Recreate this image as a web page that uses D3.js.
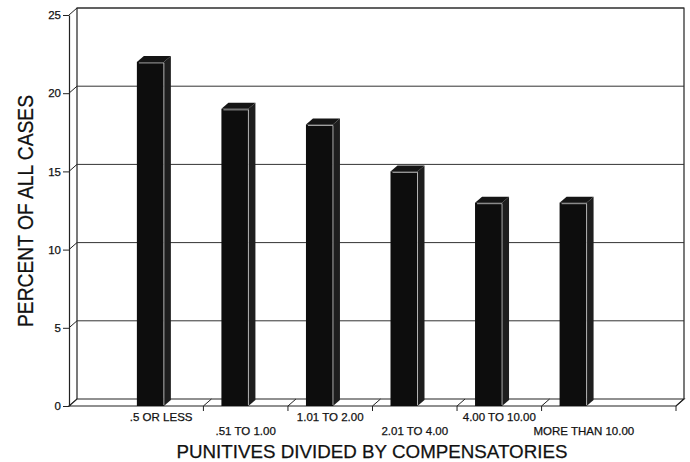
<!DOCTYPE html>
<html>
<head>
<meta charset="utf-8">
<script src="https://cdn.jsdelivr.net/npm/d3@7"></script>
<style>
  body { margin: 0; background: #fff; }
  svg text { font-family: "Liberation Sans", Arial, sans-serif; fill: #111; stroke: #111; stroke-width: 0.25px; }
</style>
</head>
<body>
<svg id="chart" width="690" height="462"></svg>
<script>
// values
var categories = [".5 OR LESS", ".51 TO 1.00", "1.01 TO 2.00", "2.01 TO 4.00", "4.00 TO 10.00", "MORE THAN 10.00"];
var percents = [22, 19, 18, 15, 13, 13];
var yTicks = [0, 5, 10, 15, 20, 25];

var svg = d3.select("#chart");

// depth of the walls and of the bars
var wdx = 8, wdy = -7;
var bdx = 7, bdy = -6;

var x = d3.scaleBand()
    .domain(categories)
    .range([69, 676])
    .paddingOuter(0.59);

var y = d3.scaleLinear()
    .domain([0, 25])
    .range([406, 15]);

var line = "#222";

// back wall frame
var g = svg.append("g");
g.append("path")
    .attr("d", "M" + (69 + wdx) + "," + (y(0) + wdy) + "V" + (y(25) + wdy) + "H684V" + (y(0) + wdy))
    .attr("fill", "none").attr("stroke", line).attr("stroke-width", 1.2);

// gridlines on back wall + diagonals on left wall
yTicks.forEach(function(t) {
    if (t == 0) return;
    g.append("line")
        .attr("x1", 69 + wdx).attr("x2", 684)
        .attr("y1", y(t) + wdy).attr("y2", y(t) + wdy)
        .attr("stroke", "#333").attr("stroke-width", 1);
});
yTicks.forEach(function(t) {
    g.append("line")
        .attr("x1", 69).attr("x2", 69 + wdx)
        .attr("y1", y(t)).attr("y2", y(t) + wdy)
        .attr("stroke", line).attr("stroke-width", 1);
});

// floor
g.append("path")
    .attr("d", "M69," + y(0) + "L" + (69 + wdx) + "," + (y(0) + wdy) + "H684L676," + y(0) + "Z")
    .attr("fill", "#fff").attr("stroke", line).attr("stroke-width", 1.2);

// floor ticks between categories (none after the last one) and at the axis end
var bw = x.bandwidth();
var tickX = categories.slice(1).map(function(c) { return x(c); });
tickX.push(676);
tickX.forEach(function(tx) {
    g.append("path")
        .attr("d", "M" + tx + "," + (y(0) + 5) + "V" + y(0) + "L" + (tx + wdx) + "," + (y(0) + wdy))
        .attr("fill", "none").attr("stroke", line).attr("stroke-width", 1);
});

// bars
var bars = svg.selectAll(".bar")
    .data(percents)
    .enter()
    .append("g")
    .attr("class", "bar");

var barOff = 18, barW = 27;

bars.append("path") // side
    .attr("d", function(d, i) {
        var x0 = x(categories[i]) + barOff + barW;
        return "M" + x0 + "," + y(0) + "L" + (x0 + bdx) + "," + (y(0) + bdy) +
            "V" + (y(d) + bdy) + "L" + x0 + "," + y(d) + "Z";
    })
    .attr("fill", "#1e1e1e");

bars.append("path") // top
    .attr("d", function(d, i) {
        var x0 = x(categories[i]) + barOff;
        return "M" + x0 + "," + y(d) + "L" + (x0 + bdx) + "," + (y(d) + bdy) +
            "H" + (x0 + barW + bdx) + "L" + (x0 + barW) + "," + y(d) + "Z";
    })
    .attr("fill", "#151515");

bars.append("rect") // front
    .attr("x", function(d, i) { return x(categories[i]) + barOff; })
    .attr("y", function(d) { return y(d); })
    .attr("width", barW)
    .attr("height", function(d) { return y(0) - y(d); })
    .attr("fill", "#0d0d0d");

bars.append("path") // light edges
    .attr("d", function(d, i) {
        var x0 = x(categories[i]) + barOff;
        return "M" + (x0 + 2) + "," + (y(d) + 1) + "H" + (x0 + barW) + "V" + (y(0) - 1);
    })
    .attr("fill", "none").attr("stroke", "#ccc").attr("stroke-width", 0.8);

// y axis
var yAxis = d3.axisLeft(y)
    .tickValues(yTicks)
    .tickSize(6)
    .tickSizeOuter(0);

var ya = svg.append("g")
    .attr("transform", "translate(69,0)")
    .call(yAxis);
ya.select(".domain").attr("stroke", line).attr("stroke-width", 1.2);
ya.selectAll(".tick line").attr("stroke", line);
ya.selectAll(".tick text")
    .attr("x", -8)
    .style("font-size", "11.5px")
    .style("font-family", "'Liberation Sans', Arial, sans-serif")
    .attr("fill", "#111");

// category labels, staggered
svg.selectAll(".cat")
    .data(categories)
    .enter()
    .append("text")
    .attr("class", "cat")
    .attr("x", function(d) { return x(d) + bw / 2; })
    .attr("y", function(d, i) { return i % 2 == 0 ? 421 : 435; })
    .attr("text-anchor", "middle")
    .style("font-size", "11.5px")
    .text(function(d) { return d; });

// axis titles
svg.append("text")
    .attr("x", 372)
    .attr("y", 458)
    .attr("text-anchor", "middle")
    .attr("textLength", 391)
    .attr("lengthAdjust", "spacingAndGlyphs")
    .style("font-size", "19px")
    .text("PUNITIVES DIVIDED BY COMPENSATORIES");

svg.append("text")
    .attr("transform", "translate(33,211) rotate(-90)")
    .attr("text-anchor", "middle")
    .attr("textLength", 232)
    .attr("lengthAdjust", "spacingAndGlyphs")
    .style("font-size", "22px")
    .text("PERCENT OF ALL CASES");
</script>
</body>
</html>
